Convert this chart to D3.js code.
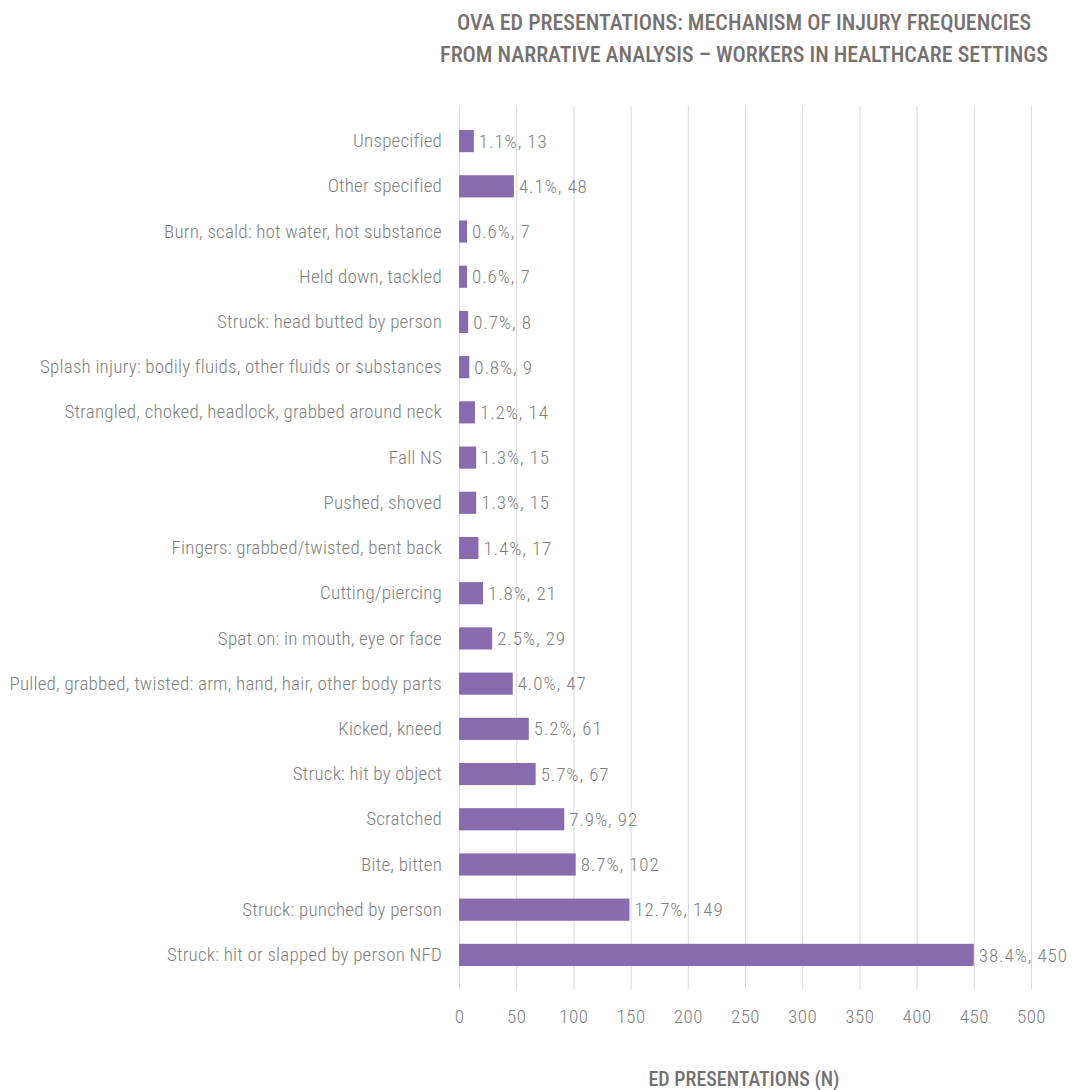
<!DOCTYPE html>
<html>
<head>
<meta charset="utf-8">
<script src="https://cdn.jsdelivr.net/npm/d3@7"></script>
<style>
  body { margin: 0; background: #fff; }
  text { font-family: "Liberation Sans Narrow", "Roboto Condensed", "Roboto", sans-serif; }
</style>
</head>
<body>
<div id="chart"></div>
<script>
// categories top to bottom, as in the picture
const categories = [
  "Unspecified",
  "Other specified",
  "Burn, scald: hot water, hot substance",
  "Held down, tackled",
  "Struck: head butted by person",
  "Splash injury: bodily fluids, other fluids or substances",
  "Strangled, choked, headlock, grabbed around neck",
  "Fall NS",
  "Pushed, shoved",
  "Fingers: grabbed/twisted, bent back",
  "Cutting/piercing",
  "Spat on: in mouth, eye or face",
  "Pulled, grabbed, twisted: arm, hand, hair, other body parts",
  "Kicked, kneed",
  "Struck: hit by object",
  "Scratched",
  "Bite, bitten",
  "Struck: punched by person",
  "Struck: hit or slapped by person NFD"
];
const counts = [13, 48, 7, 7, 8, 9, 14, 15, 15, 17, 21, 29, 47, 61, 67, 92, 102, 149, 450];
const percents = [1.1, 4.1, 0.6, 0.6, 0.7, 0.8, 1.2, 1.3, 1.3, 1.4, 1.8, 2.5, 4.0, 5.2, 5.7, 7.9, 8.7, 12.7, 38.4];
const xTicks = [0, 50, 100, 150, 200, 250, 300, 350, 400, 450, 500];

const dataset = categories.map((c, i) => ({cat: c, n: counts[i], pct: percents[i]}));

const width = 1072, height = 1090;
const plot = {left: 459, right: 1031, top: 106, bottom: 989, bandTop: 118.5, bandBottom: 977.5};

const svg = d3.select('#chart')
  .append('svg')
  .attr('width', width)
  .attr('height', height);

const x = d3.scaleLinear()
  .domain([0, 500])
  .range([plot.left, plot.right]);

const y = d3.scaleBand()
  .domain(categories)
  .range([plot.bandTop, plot.bandBottom])
  .paddingInner(0.51)
  .paddingOuter(0.255);

// gridlines
svg.append('g')
  .selectAll('line')
  .data(xTicks)
  .join('line')
    .attr('x1', d => x(d) + 0.5)
    .attr('x2', d => x(d) + 0.5)
    .attr('y1', plot.top)
    .attr('y2', plot.bottom)
    .attr('stroke', '#d9d9d9')
    .attr('stroke-width', 1);

// bars
svg.append('g')
  .selectAll('rect')
  .data(dataset)
  .join('rect')
    .attr('x', x(0))
    .attr('y', d => y(d.cat))
    .attr('width', d => x(d.n) - x(0))
    .attr('height', y.bandwidth())
    .attr('fill', '#8a6aae');

// value labels
svg.append('g')
  .selectAll('text')
  .data(dataset)
  .join('text')
    .attr('x', d => x(d.n) + 5)
    .attr('y', d => y(d.cat) + y.bandwidth() / 2)
    .attr('dy', '0.35em')
    .attr('fill', '#808080')
    .style('font-size', '19px')
    .style('font-weight', '300')
    .style('letter-spacing', '0.9px')
    .text(d => `${d.pct.toFixed(1)}%, ${d.n}`);

// category axis
const yAxis = svg.append('g')
  .attr('transform', `translate(${plot.left}, 0)`)
  .call(d3.axisLeft(y).tickSize(0).tickPadding(17));
yAxis.select('.domain').remove();
yAxis.selectAll('text')
  .attr('fill', '#808080')
  .style('font-size', '19px')
  .style('font-weight', '300')
  .style('letter-spacing', '0.2px');

// value axis
const xAxis = svg.append('g')
  .attr('transform', `translate(0, ${plot.bottom})`)
  .call(d3.axisBottom(x).tickValues(xTicks).tickSize(0).tickPadding(21));
xAxis.select('.domain').remove();
xAxis.selectAll('text')
  .attr('fill', '#808080')
  .style('font-size', '19px')
  .style('font-weight', '300')
  .style('letter-spacing', '0.5px');

// titles
const title = svg.append('text')
  .attr('x', 744)
  .attr('text-anchor', 'middle')
  .attr('fill', '#767171')
  .style('font-size', '22px')
  .style('font-weight', '500');
title.append('tspan').attr('x', 744).attr('y', 30).text('OVA ED PRESENTATIONS: MECHANISM OF INJURY FREQUENCIES');
title.append('tspan').attr('x', 744).attr('y', 62).text('FROM NARRATIVE ANALYSIS \u2013 WORKERS IN HEALTHCARE SETTINGS');

svg.append('text')
  .attr('x', 744)
  .attr('y', 1086)
  .attr('text-anchor', 'middle')
  .attr('fill', '#767171')
  .style('font-size', '20px')
  .style('font-weight', '500')
  .text('ED PRESENTATIONS (N)');
</script>
</body>
</html>
